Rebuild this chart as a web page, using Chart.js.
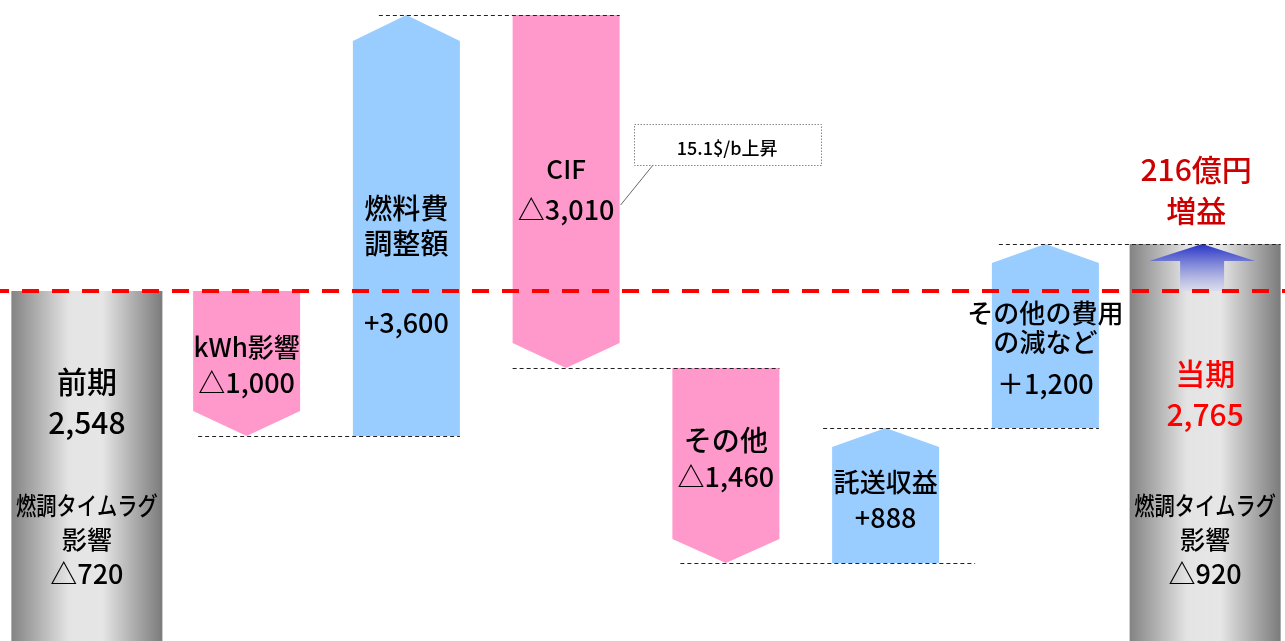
<!DOCTYPE html>
<html><head><meta charset="utf-8">
<script src="https://cdn.jsdelivr.net/npm/chart.js@4.4.1/dist/chart.umd.min.js"></script>
<style>html,body{margin:0;padding:0;background:#fff;overflow:hidden}#wrap{position:relative;width:1285px;height:641px}</style>
</head><body><div id="wrap"><canvas id="c"></canvas></div>
<script>
// ---- data (億円) ----
const categories = ['前期', 'kWh影響', '燃料費調整額', 'CIF', 'その他', '託送収益', 'その他の費用の減など', '当期'];
const nameLines = [['前期'], ['kWh影響'], ['燃料費', '調整額'], ['CIF'], ['その他'], ['託送収益'], ['その他の費用', 'の減など'], ['当期']];
const amounts = [2548, -1000, 3600, -3010, -1460, 888, 1200, 2765];
const valueLabels = ['2,548', '△1,000', '+3,600', '△3,010', '△1,460', '+888', '＋1,200', '2,765'];
const timeLagLabels = ['△720', null, null, null, null, null, null, '△920'];
const timeLagTitle = ['燃調タイムラグ', '影響'];
const crudeNote = '15.1$/b上昇';
const totalChange = ['216億円', '増益'];
// the drawing is not to scale: levels on the hidden display axis
const levelFrom = [0, 350, 205, 626, 273, 78, 213, 0];
const levelTo   = [350, 205, 626, 273, 78, 213, 397, 397];

const isTotal = (i) => i === 0 || i === categories.length - 1;
const totalData = categories.map((c, i) => isTotal(i) ? [levelFrom[i], levelTo[i]] : null);
const stepData  = categories.map((c, i) => isTotal(i) ? null : [levelFrom[i], levelTo[i]]);

// ---- styles ----
const FONT = '"Noto Sans CJK JP","Noto Sans",sans-serif';
const PINK = '#ff99cc', BLUE = '#99ccff', RED = '#ff0000', DARKRED = '#cc0000';
const HEAD = [0, 25, 26, 25, 24, 19, 19, 0];
const NAME_Y = [[382], [347], [208, 243], [169], [440], [482], [313, 342], [374]];
const NAME_SIZE = [30, 26, 28, 26, 28, 26, 26, 30];
const VALUE_Y = [423, 383, 323, 210, 477, 518, 384, 415];
const VALUE_SIZE = [30, 27, 27, 27, 27, 27, 27, 30];
const LAG_Y = [505, 539, 574];
const CONN_START = [5, 26, 0, 8, -9, 7];   // from left edge of previous bar
const CONN_END = [0, 0, 0, 36, 0, 0];      // past right edge of next bar

const shapes = {
  id: 'waterfallShapes',
  afterDatasetsDraw(chart) {
    const ctx = chart.ctx;
    const els = [];
    chart.data.datasets.forEach((ds, di) => {
      chart.getDatasetMeta(di).data.forEach((el, i) => { if (ds.data[i] != null) els[i] = el.getProps(['x', 'y', 'base', 'width'], true); });
    });
    const n = els.length;
    ctx.save();
    // gray cylinders
    [0, n - 1].forEach(i => {
      const e = els[i], l = e.x - e.width / 2, r = e.x + e.width / 2;
      const top = Math.min(e.y, e.base), bot = Math.max(e.y, e.base);
      const g = ctx.createLinearGradient(l, 0, r, 0);
      g.addColorStop(0, '#838383'); g.addColorStop(0.38, '#e4e4e4'); g.addColorStop(0.6, '#e6e6e6'); g.addColorStop(1, '#7b7b7b');
      ctx.fillStyle = g; ctx.fillRect(l, top, e.width, bot - top + 5);
    });
    // arrows
    for (let i = 1; i < n - 1; i++) {
      const e = els[i], l = e.x - e.width / 2, r = e.x + e.width / 2;
      const top = Math.min(e.y, e.base), bot = Math.max(e.y, e.base), h = HEAD[i];
      ctx.beginPath();
      if (amounts[i] >= 0) {
        ctx.moveTo(l, bot); ctx.lineTo(l, top + h); ctx.lineTo(e.x, top); ctx.lineTo(r, top + h); ctx.lineTo(r, bot);
        ctx.fillStyle = BLUE;
      } else {
        ctx.moveTo(l, top); ctx.lineTo(r, top); ctx.lineTo(r, bot - h); ctx.lineTo(e.x, bot); ctx.lineTo(l, bot - h);
        ctx.fillStyle = PINK;
      }
      ctx.closePath(); ctx.fill();
    }
    // blue gradient arrow in last bar
    const yScale = chart.scales.y;
    const last = els[n - 1];
    const redY = yScale.getPixelForValue(levelTo[0]);
    {
      const cx = last.x - 3, top = Math.min(last.y, last.base);
      const g = ctx.createLinearGradient(0, top, 0, redY);
      g.addColorStop(0, '#2632c6'); g.addColorStop(1, 'rgba(215,218,238,0.7)');
      ctx.fillStyle = g; ctx.beginPath();
      ctx.moveTo(cx, top); ctx.lineTo(cx + 53, top + 17); ctx.lineTo(cx + 22, top + 17); ctx.lineTo(cx + 22, redY);
      ctx.lineTo(cx - 22, redY); ctx.lineTo(cx - 22, top + 17); ctx.lineTo(cx - 53, top + 17); ctx.closePath(); ctx.fill();
    }
    // connectors
    ctx.strokeStyle = '#222'; ctx.lineWidth = 1; ctx.setLineDash([4, 3]);
    for (let i = 1; i < n - 1; i++) {
      const a = els[i], b = els[i + 1];
      const py = Math.round(yScale.getPixelForValue(levelTo[i])) + 0.5;
      ctx.beginPath();
      ctx.moveTo(a.x - a.width / 2 + CONN_START[i - 1], py);
      ctx.lineTo(b.x + b.width / 2 + CONN_END[i - 1], py);
      ctx.stroke();
    }
    // red dashed baseline (previous period level)
    ctx.strokeStyle = RED; ctx.lineWidth = 4; ctx.setLineDash([17, 13]);
    ctx.beginPath(); ctx.moveTo(-8, redY); ctx.lineTo(chart.width + 20, redY); ctx.stroke();
    ctx.setLineDash([]);
    // texts
    ctx.textAlign = 'center'; ctx.textBaseline = 'middle';
    const txt = (t, x, y, size, color, maxW) => {
      ctx.font = '500 ' + size + 'px ' + FONT; ctx.fillStyle = color || '#000';
      if (maxW) ctx.fillText(t, x, y, maxW); else ctx.fillText(t, x, y);
    };
    for (let i = 0; i < n; i++) {
      const e = els[i], col = (i === n - 1) ? RED : '#000';
      nameLines[i].forEach((t, k) => txt(t, e.x, NAME_Y[i][k], NAME_SIZE[i], col));
      txt(valueLabels[i], e.x, VALUE_Y[i], VALUE_SIZE[i], col);
      if (timeLagLabels[i]) {
        txt(timeLagTitle[0], e.x, LAG_Y[0], 25, '#000', 142);
        txt(timeLagTitle[1], e.x, LAG_Y[1], 25, '#000');
        txt(timeLagLabels[i], e.x, LAG_Y[2], 27, '#000');
      }
    }
    // total change note
    txt(totalChange[0], last.x - 9, 170, 30, DARKRED);
    txt(totalChange[1], last.x - 9, 211, 30, DARKRED);
    // callout on CIF
    const cif = els[3];
    const bl = cif.x + cif.width / 2 + 14, bt = 124.5, bw = 187, bh = 41;
    ctx.fillStyle = '#fff'; ctx.fillRect(bl, bt, bw, bh);
    ctx.strokeStyle = '#888'; ctx.lineWidth = 1; ctx.setLineDash([1.5, 1.5]);
    ctx.strokeRect(Math.round(bl) + 0.5, bt, bw, bh);
    ctx.setLineDash([]); ctx.strokeStyle = '#666';
    ctx.beginPath(); ctx.moveTo(bl + 19, bt + bh); ctx.lineTo(cif.x + cif.width / 2 + 1, 205); ctx.stroke();
    txt(crudeNote, bl + bw / 2, 148, 18, '#000');
    ctx.restore();
  }
};

new Chart(document.getElementById('c'), {
  type: 'bar',
  data: {
    labels: categories,
    datasets: [
      { label: 'total', data: totalData, barThickness: 151, backgroundColor: 'rgba(0,0,0,0)', grouped: false },
      { label: 'change', data: stepData, barThickness: 107, backgroundColor: 'rgba(0,0,0,0)', grouped: false }
    ]
  },
  options: {
    responsive: true, maintainAspectRatio: false, animation: false,
    layout: { padding: { left: 7, right: 0, top: 0, bottom: 0 } },
    scales: {
      x: { display: false, offset: true },
      y: { display: false, min: 0, max: 641 }
    },
    plugins: { legend: { display: false }, tooltip: { enabled: false } }
  },
  plugins: [shapes]
});
</script></body></html>
